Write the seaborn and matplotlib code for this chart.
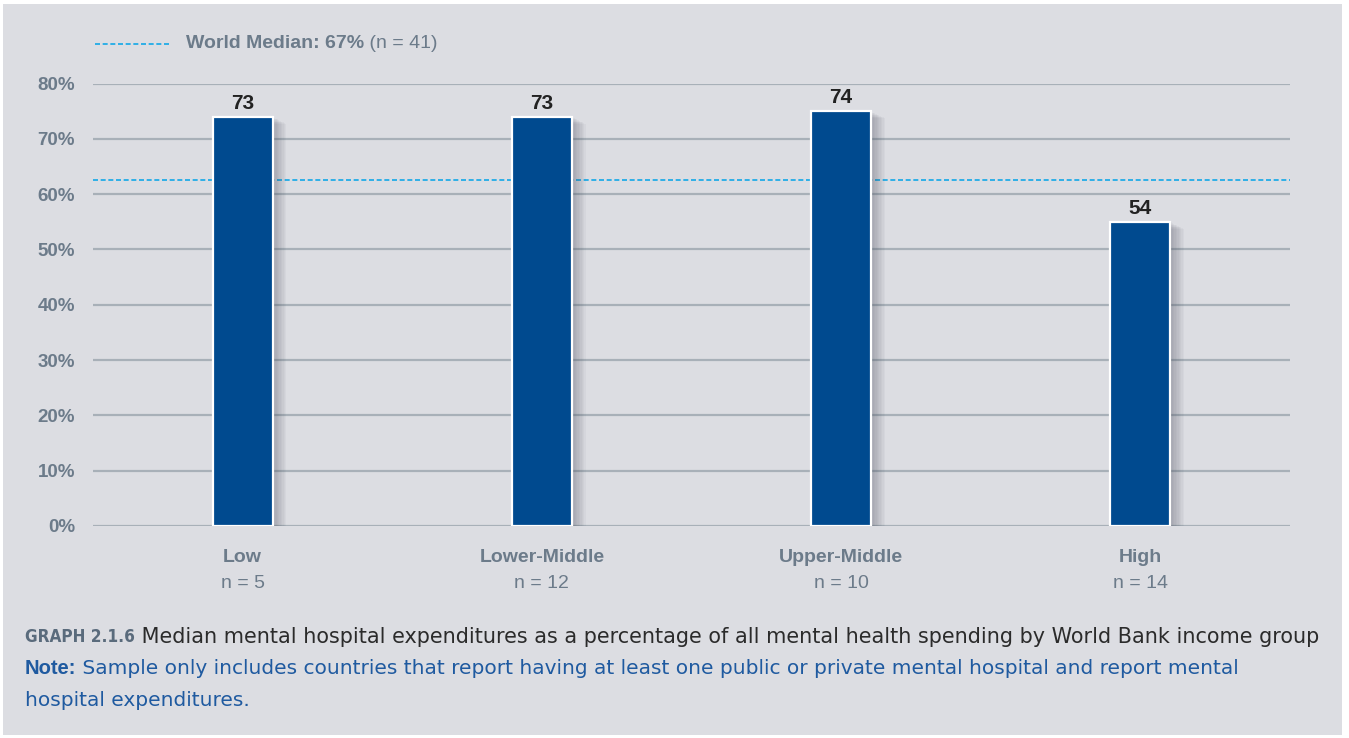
import matplotlib
matplotlib.use("Agg")
import matplotlib.pyplot as plt
import matplotlib.patheffects as pe
from matplotlib import font_manager
from matplotlib.font_manager import FontProperties
from matplotlib.lines import Line2D
from matplotlib.patches import Rectangle
import pandas as pd
import seaborn as sns

# data
groups = ["Low", "Lower-Middle", "Upper-Middle", "High"]
group_n = ["n = 5", "n = 12", "n = 10", "n = 14"]
bar_heights = [74, 74, 75, 55]          # bar tops as drawn against the axis
value_labels = ["73", "73", "74", "54"]  # printed values
median_drawn = 62.5                      # dashed line position as drawn
median_text = "67%"
median_n = 41
y_ticks = [0, 10, 20, 30, 40, 50, 60, 70, 80]

BG = "#dcdde2"
BAR = "#004a8f"
GRID = "#a8b0b8"
TXT_GREY = "#6c7b8a"
CYAN = "#12a8e8"
NOTE_BLUE = "#1f5aa0"

sns.set_theme(style="white")
plt.rcParams["font.family"] = ["Liberation Sans", "DejaVu Sans"]

# condensed bold face for the figure number, if one is installed
cond = FontProperties(family="DejaVu Sans", stretch="condensed", weight="bold")
if "Condensed" in font_manager.findfont(cond, fallback_to_default=True):
    graph_kw = dict(fontproperties=cond)
    graph_size = 12.3
else:
    graph_kw = dict(fontweight="bold")
    graph_size = 12

fig = plt.figure(figsize=(13.49, 7.38), dpi=100, facecolor="white")
W, H = 1349, 738
fig.patches.append(Rectangle((3 / W, 3 / H), 1339 / W, 731 / H, transform=fig.transFigure,
                             facecolor=BG, edgecolor="none", zorder=-10))

ax = fig.add_axes([93 / W, 1 - 526 / H, 1197 / W, 442.5 / H])
ax.set_facecolor("none")

df = pd.DataFrame({"group": groups, "value": bar_heights})
sns.barplot(data=df, x="group", y="value", width=0.2, color=BAR, saturation=1,
            edgecolor="white", linewidth=1.6, ax=ax, zorder=3)

shadow = [pe.SimplePatchShadow(offset=(k, -k * 0.5), shadow_rgbFace="#4a5060", alpha=0.045)
          for k in range(1, 11)]
for p in ax.patches:
    p.set_path_effects(shadow + [pe.Normal()])

for i, (h, lab) in enumerate(zip(bar_heights, value_labels)):
    ax.annotate(lab, (i, h), xytext=(0, 3), textcoords="offset points", ha="center",
                va="bottom", fontsize=15, fontweight="bold", color="#222222")

ax.axhline(median_drawn, color=CYAN, lw=1.2, ls=(0, (3, 1.6)), zorder=2)

ax.set_xlim(-0.5, len(groups) - 0.5)
ax.set_ylim(0, 80)
ax.set_yticks(y_ticks)
ax.set_yticklabels([f"{t}%" for t in y_ticks])
ax.yaxis.grid(True, color=GRID, lw=1.6)
ax.set_axisbelow(True)
ax.tick_params(axis="y", length=0, pad=13, labelsize=13.5, labelcolor=TXT_GREY)
for t in ax.get_yticklabels():
    t.set_fontweight("bold")
ax.set_xticks([])
ax.set_xlabel("")
ax.set_ylabel("")
for s in ax.spines.values():
    s.set_visible(False)

tr = ax.get_xaxis_transform()
for i, (g, n) in enumerate(zip(groups, group_n)):
    ax.text(i, -0.072, g, transform=tr, ha="center", va="center", fontsize=14,
            fontweight="bold", color=TXT_GREY, clip_on=False)
    ax.text(i, -0.13, n, transform=tr, ha="center", va="center", fontsize=14,
            color=TXT_GREY, clip_on=False)

# legend for the median line
fig.add_artist(Line2D([95 / W, 170 / W], [1 - 44 / H] * 2, transform=fig.transFigure,
                      color=CYAN, lw=1.2, ls=(0, (3, 1.6))))
t1 = fig.text(186 / W, 1 - 44 / H, f"World Median: {median_text}", ha="left", va="center",
              fontsize=14, fontweight="bold", color=TXT_GREY)
ax.annotate(f" (n = {median_n})", xy=(1, 0.5), xycoords=t1, ha="left", va="center",
            fontsize=14, color=TXT_GREY, annotation_clip=False)

# caption
c1 = fig.text(25 / W, 1 - 637 / H, "GRAPH 2.1.6", ha="left", va="center",
              color="#5a6b7c", **graph_kw)
c1.set_fontsize(graph_size)
ax.annotate(" Median mental hospital expenditures as a percentage of all mental health "
            "spending by World Bank income group", xy=(1, 0.5), xycoords=c1,
            ha="left", va="center", fontsize=14.95, color="#2b2b2b", family="DejaVu Sans",
            annotation_clip=False)
c2 = fig.text(25 / W, 1 - 669 / H, "Note:", ha="left", va="center",
              fontsize=14.5, fontweight="bold", color=NOTE_BLUE)
ax.annotate(" Sample only includes countries that report having at least one public or "
            "private mental hospital and report mental", xy=(1, 0.5), xycoords=c2,
            ha="left", va="center", fontsize=14.5, color=NOTE_BLUE, family="DejaVu Sans",
            annotation_clip=False)
fig.text(25 / W, 1 - 701 / H, "hospital expenditures.", ha="left", va="center",
         fontsize=14.5, color=NOTE_BLUE, family="DejaVu Sans")

fig.savefig("out.png", dpi=100, facecolor="white")
